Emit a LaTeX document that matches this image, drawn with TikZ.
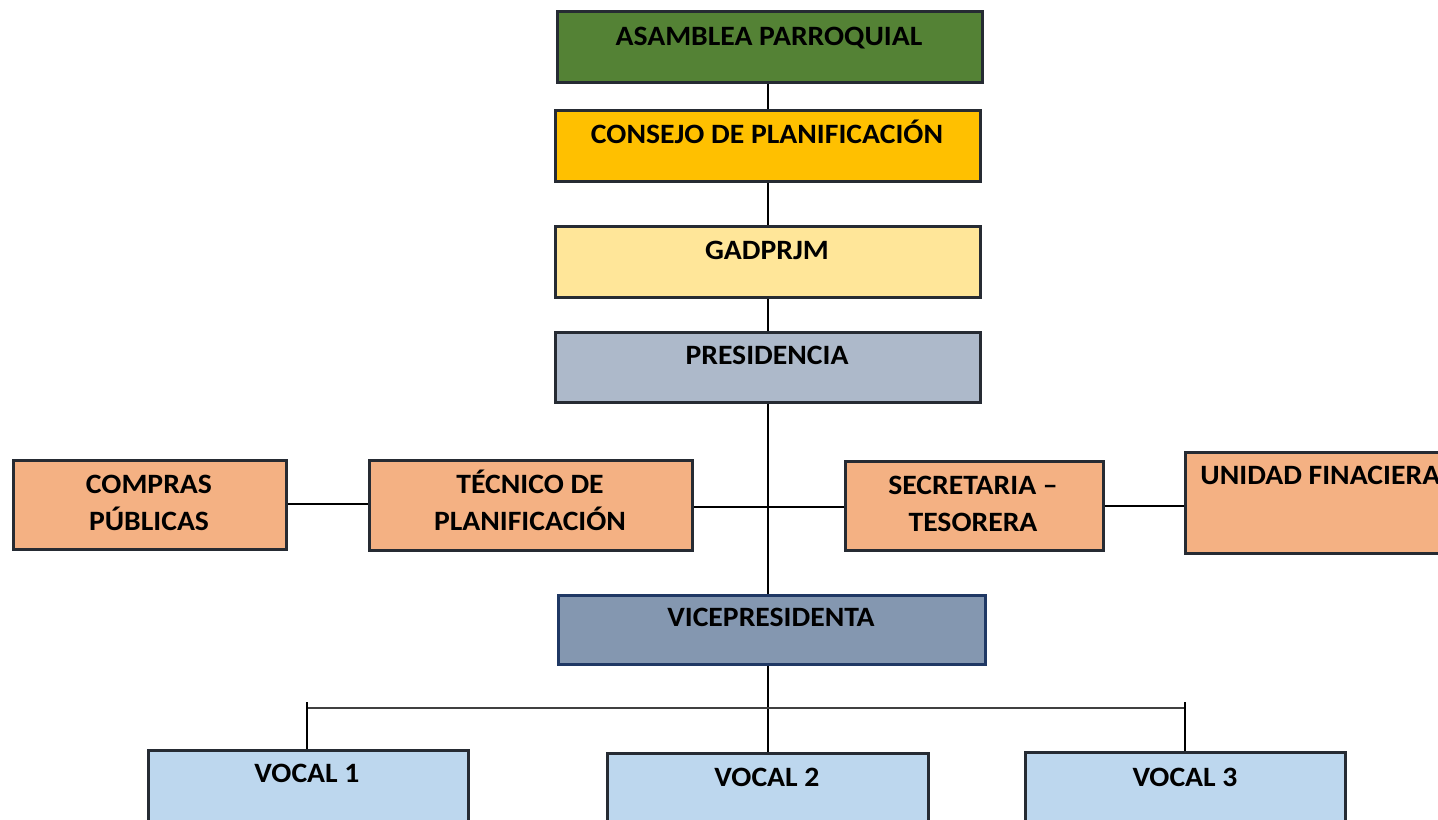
\documentclass[tikz,border=0pt]{standalone}
\usepackage{fontspec}
\setmainfont[FakeStretch=1.06]{Carlito}
\usetikzlibrary{fit}
\definecolor{bordc}{HTML}{262B33}
\definecolor{cgreen}{HTML}{548235}
\definecolor{cgold}{HTML}{FFC000}
\definecolor{cyell}{HTML}{FFE699}
\definecolor{cpres}{HTML}{ADB9CA}
\definecolor{corng}{HTML}{F4B183}
\definecolor{cvice}{HTML}{8497B0}
\definecolor{cnavy}{HTML}{1F3864}
\definecolor{cvocal}{HTML}{BDD7EE}
\tikzset{
  box/.style={draw=bordc, line width=1.5pt, inner sep=0pt, rectangle},
  lbl/.style={anchor=base, align=center, inner sep=0pt, text=black,
    font=\bfseries\fontsize{14}{18.5}\selectfont},
  conn/.style={draw=black, line width=0.55pt},
  bracket/.style={draw=black!75, line width=0.9pt}
}
\begin{document}
\begin{tikzpicture}[x=0.5pt, y=-0.5pt]
\useasboundingbox (0,0) rectangle (1438,819);
\clip (0,0) rectangle (1438,819);
\fill[white] (0,0) rectangle (1438,819);

% boxes
\node[box, fill=cgreen, fit={(557,11) (982,82)}] (asam) {};
\node[box, fill=cgold, fit={(555,110) (980,181)}] (cons) {};
\node[box, fill=cyell, fit={(555,226) (980,297)}] (gad) {};
\node[box, fill=cpres, fit={(555,332) (980,402)}] (pres) {};
\node[box, fill=corng, fit={(13,460) (286,549)}] (comp) {};
\node[box, fill=corng, fit={(369,460) (692,550)}] (tec) {};
\node[box, fill=corng, fit={(845,461) (1103,550)}] (sec) {};
\node[box, fill=corng, fit={(1185,452) (1470,553)}] (uni) {};
\node[box, fill=cvice, draw=cnavy, fit={(558,595) (985,664)}] (vice) {};
\node[box, fill=cvocal, fit={(148,750) (468,840)}] (v1) {};
\node[box, fill=cvocal, fit={(607,753) (928,840)}] (v2) {};
\node[box, fill=cvocal, fit={(1025,752) (1345,840)}] (v3) {};

% labels
\node[lbl] (asamT) at (769,45) {ASAMBLEA PARROQUIAL};
\node[lbl] (consT) at (767,143) {CONSEJO DE PLANIFICACIÓN};
\node[lbl] (gadT) at (767,259) {GADPRJM};
\node[lbl] (presT) at (767,364) {PRESIDENCIA};
\node[lbl] (compT) at (149,530) {COMPRAS\\PÚBLICAS};
\node[lbl] (tecT) at (530,530) {TÉCNICO DE\\PLANIFICACIÓN};
\node[lbl] (secT) at (973,531) {SECRETARIA –\\TESORERA};
\node[lbl, anchor=base west] (uniT) at (1200,484) {UNIDAD FINACIERA};
\node[lbl] (viceT) at (771,626) {VICEPRESIDENTA};
\node[lbl] (v1T) at (307,782) {VOCAL 1};
\node[lbl] (v2T) at (767,786) {VOCAL 2};
\node[lbl] (v3T) at (1185,786) {VOCAL 3};

% connectors
\coordinate (brL) at (307,708);
\coordinate (brR) at (1185,708);
\draw[conn] (asam.south -| 768,0) -- (cons.north -| 768,0);
\draw[conn] (cons.south -| 768,0) -- (gad.north -| 768,0);
\draw[conn] (gad.south -| 768,0) -- (pres.north -| 768,0);
\draw[conn] (pres.south -| 768,0) -- (vice.north -| 768,0);
\draw[conn] (comp.east |- 0,504) -- (tec.west |- 0,504);
\draw[conn] (tec.east |- 0,507) -- (sec.west |- 0,507);
\draw[conn] (sec.east |- 0,506) -- (uni.west |- 0,506);
\draw[conn] (vice.south -| 768,0) -- (v2.north -| 768,0);
\draw[bracket] (brL) -- (brR);
\draw[conn] ([yshift=3pt]brL) -- (v1.north -| brL);
\draw[conn] ([yshift=3pt]brR) -- (v3.north -| brR);
\end{tikzpicture}
\end{document}
